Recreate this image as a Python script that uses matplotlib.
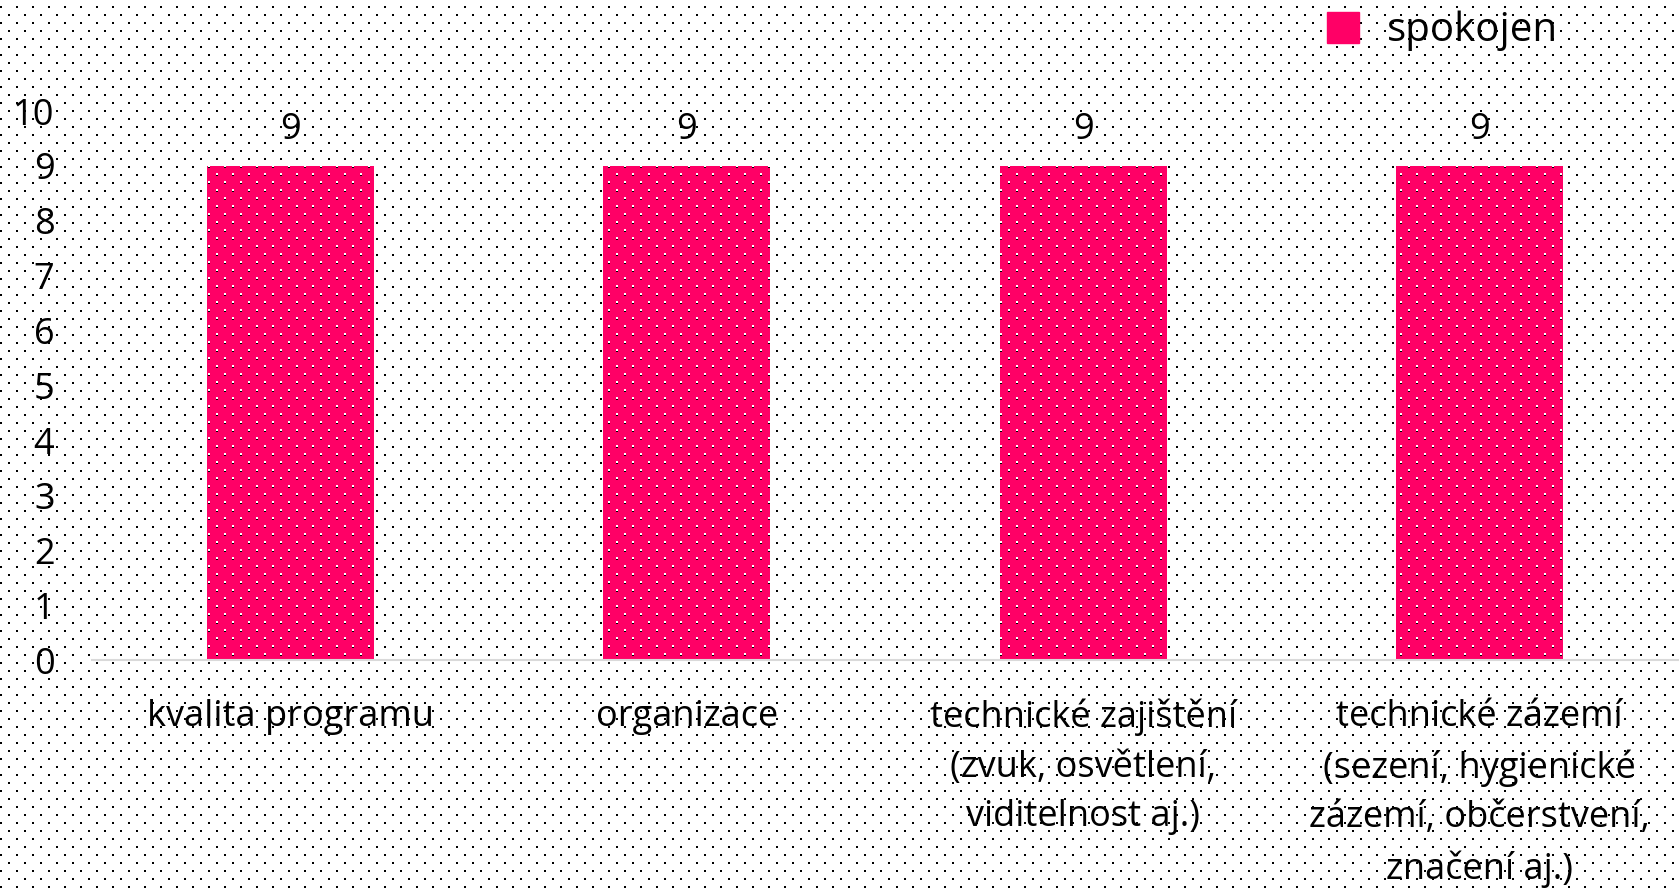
import numpy as np
import matplotlib
matplotlib.use("Agg")
from matplotlib import pyplot as plt
from matplotlib.patches import Patch

# data
categories = [
    "kvalita programu",
    "organizace",
    "technické zajištění\n(zvuk, osvětlení,\nviditelnost aj.)",
    "technické zázemí\n(sezení, hygienické\nzázemí, občerstvení,\nznačení aj.)",
]
values = [9, 9, 9, 9]
series_name = "spokojen"
y_ticks = list(range(0, 11))

pink = "#FF0066"
W, H = 1680, 892

plt.rcParams["font.family"] = ["Open Sans", "DejaVu Sans"]


def dot_pattern(color, shift_y=0):
    # staggered dot texture (2px dots, 16px apart, rows every 8px)
    img = np.zeros((H, W, 4))
    for k, y in enumerate(range(6 + shift_y, H, 8)):
        x0 = 0 if k % 2 == 0 else 8
        for x in range(x0, W, 16):
            img[y:y + 2, x:x + 2, :3] = color
            img[y:y + 2, x:x + 2, 3] = 1
    return img


fig = plt.figure(figsize=(16.8, 8.92), dpi=100)
fig.patch.set_facecolor("white")
fig.figimage(dot_pattern((0, 0, 0)), zorder=0)

ax = fig.add_axes([92 / W, 1 - 660 / H, (1678 - 92) / W, (660 - 111) / H])
ax.set_facecolor("none")

x = np.arange(len(categories))
bars = ax.bar(x, values, width=0.42, color=pink)
ax.bar_label(bars, padding=13, fontsize=26)

ax.set_xlim(-0.5, len(categories) - 0.5)
ax.set_ylim(0, 10)
ax.set_yticks(y_ticks)
ax.set_xticks(x)
ax.set_xticklabels(categories, linespacing=1.5)
ax.tick_params(axis="y", length=0, pad=27, labelsize=26)
ax.tick_params(axis="x", length=0, pad=28, labelsize=26)
for s in ["top", "right", "left"]:
    ax.spines[s].set_visible(False)
ax.spines["bottom"].set_color("#d9d9d9")
ax.spines["bottom"].set_linewidth(1.5)

# white dots on top of the bars
white = dot_pattern((1, 1, 1), shift_y=-1)
for b in bars:
    im = fig.figimage(white, zorder=3)
    im.set_clip_path(b)

leg = fig.legend(handles=[Patch(color=pink, label=series_name)],
                 loc="center left", bbox_to_anchor=(1327 / W, 1 - 31 / H),
                 frameon=False, fontsize=29, borderpad=0, borderaxespad=0,
                 handlelength=0.8, handleheight=0.8, handletextpad=0.7)

fig.savefig("out.png", dpi=100)
